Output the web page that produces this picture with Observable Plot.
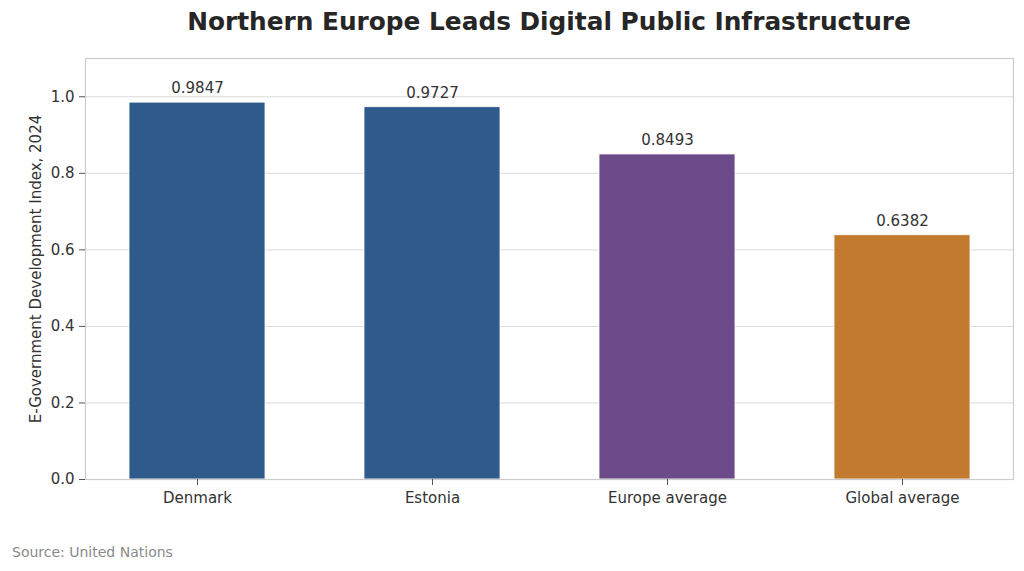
<!DOCTYPE html>
<html>
<head>
<meta charset="utf-8">
<script src="https://cdn.jsdelivr.net/npm/d3@7"></script>
<script src="https://cdn.jsdelivr.net/npm/@observablehq/plot@0.6"></script>
<style>
  html, body { margin: 0; padding: 0; background: #fff; }
  #wrap { position: relative; width: 1024px; height: 571px; overflow: hidden; font-family: "DejaVu Sans", sans-serif; }
  #title { position: absolute; top: 7px; left: 85px; width: 928px; text-align: center; font-weight: bold; font-size: 24.8px; color: #262626; white-space: nowrap; }
  #chart { position: absolute; top: 40px; left: 0; }
  #caption { position: absolute; left: 12px; top: 544px; font-size: 14px; color: #8a8a8a; }
</style>
</head>
<body>
<div id="wrap">
  <div id="title">Northern Europe Leads Digital Public Infrastructure</div>
  <div id="chart"></div>
  <div id="caption">Source: United Nations</div>
</div>
<script>
const categories = ["Denmark", "Estonia", "Europe average", "Global average"];
const values = [0.9847, 0.9727, 0.8493, 0.6382];
const colors = ["#2e5b8c", "#2e5b8c", "#6d4a8a", "#c27a2e"];
const yTicks = [0, 0.2, 0.4, 0.6, 0.8, 1.0];

const data = categories.map((c, i) => ({category: c, value: values[i], color: colors[i]}));

const chart = Plot.plot({
  width: 1024,
  height: 490,
  marginTop: 18,
  marginBottom: 51,
  marginLeft: 85,
  marginRight: 11,
  style: {fontFamily: "DejaVu Sans, sans-serif", fontSize: "15px", color: "#333", background: "#fff"},
  x: {domain: categories, paddingInner: 0.423, paddingOuter: 0.18, label: null},
  y: {domain: [0, 1.1]},
  marks: [
    Plot.gridY(yTicks, {stroke: "#d9d9d9", strokeOpacity: 1, strokeWidth: 1}),
    Plot.barY(data, {x: "category", y: "value", fill: "color", stroke: "#ffffff", strokeWidth: 0.8}),
    Plot.text(data, {x: "category", y: "value", text: d => d.value.toFixed(4), dy: -14, fontSize: 15, fill: "#333"}),
    Plot.frame({stroke: "#cccccc", strokeWidth: 1.2}),
    Plot.axisX({tickSize: 6, tickPadding: 7, fontSize: 15, stroke: "#555", label: null}),
    Plot.axisY({ticks: yTicks, tickFormat: d3.format(".1f"), tickSize: 6, tickPadding: 5, fontSize: 15, stroke: "#555", label: "E-Government Development Index, 2024", labelAnchor: "center", labelArrow: "none", labelOffset: 55})
  ]
});
document.getElementById("chart").appendChild(chart);
</script>
</body>
</html>
